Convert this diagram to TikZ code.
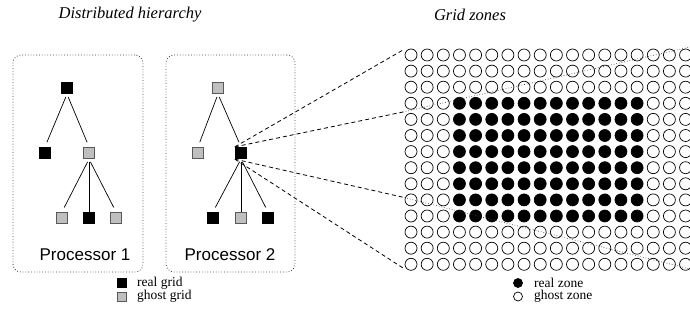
\documentclass[tikz,border=0pt]{standalone}
\usepackage{fontspec}
\setmainfont{Liberation Serif}
\newfontfamily\procfont{Liberation Sans}
\begin{document}
\begin{tikzpicture}[x=1pt,y=-1pt,
  realsq/.style={draw=black, fill=black, minimum size=11.5pt, inner sep=0pt, line width=0.8pt},
  ghostsq/.style={draw=black!65, fill=black!25, minimum size=11.5pt, inner sep=0pt, line width=0.8pt},
  pbox/.style={draw=black!75, dotted, rounded corners=8pt, line width=0.8pt, inner sep=0pt},
  tline/.style={line width=0.7pt, shorten <=3pt, shorten >=5pt},
  zreal/.style={circle, fill=black, draw=black, line width=0.7pt, minimum size=12pt, inner sep=0pt},
  zghost/.style={circle, draw=black, line width=0.7pt, minimum size=12pt, inner sep=0pt},
  dline/.style={dashed, dash pattern=on 4pt off 3pt, line width=0.8pt},
  pline/.style={dotted, line width=0.7pt, black!75},
  title/.style={font=\fontsize{16.5}{19}\selectfont\itshape},
  proc/.style={font=\procfont\fontsize{17}{20}\selectfont},
  leg/.style={font=\fontsize{13.5}{14}\selectfont, anchor=west, inner sep=0pt}
]
\useasboundingbox (0,0) rectangle (690,320);

% titles
\node[title] (t1) at (130,15) {Distributed hierarchy};
\node[title] (t2) at (470,15) {Grid zones};

% processor boxes
\node[pbox, minimum width=130pt, minimum height=217pt] (box1) at (78,163.5) {};
\node[pbox, minimum width=129pt, minimum height=217pt] (box2) at (230.5,163.5) {};
\node[proc] (p1) at (85,255) {Processor 1};
\node[proc] (p2) at (230,255) {Processor 2};

% tree 1
\node[realsq]  (a0) at (67,88) {};
\node[realsq]  (a1) at (45,153) {};
\node[ghostsq] (a2) at (89,153) {};
\node[ghostsq] (a3) at (62,218) {};
\node[realsq]  (a4) at (89,218) {};
\node[ghostsq] (a5) at (116,218) {};
\draw[tline] (a0.south) -- (a1.north);
\draw[tline] (a0.south) -- (a2.north);
\draw[tline] (a2.south) -- (a3.north);
\draw[tline, shorten >=0pt] (a2.south) -- (a4.north);
\draw[tline] (a2.south) -- (a5.north);

% tree 2
\node[ghostsq] (b0) at (218,88) {};
\node[ghostsq] (b1) at (198,153) {};
\node[realsq]  (b2) at (241,153) {};
\node[realsq]  (b3) at (213,218) {};
\node[ghostsq] (b4) at (241,218) {};
\node[realsq]  (b5) at (268,218) {};
\draw[tline] (b0.south) -- (b1.north);
\draw[tline] (b0.south) -- (b2.north);
\draw[tline] (b2.south) -- (b3.north);
\draw[tline, shorten >=0pt] (b2.south) -- (b4.north);
\draw[tline] (b2.south) -- (b5.north);

% grid of zones
\foreach \i in {1,...,14}{
  \foreach \j in {1,...,18}{
    \pgfmathsetmacro{\xx}{411+16.15*(\j-1)}
    \pgfmathsetmacro{\yy}{55+16.1*(\i-1)}
    \ifnum\i>3 \ifnum\i<12 \ifnum\j>3 \ifnum\j<16
      \node[zreal] (z-\i-\j) at (\xx,\yy) {};
    \else \node[zghost] (z-\i-\j) at (\xx,\yy) {};
    \fi \else \node[zghost] (z-\i-\j) at (\xx,\yy) {};
    \fi \else \node[zghost] (z-\i-\j) at (\xx,\yy) {};
    \fi \else \node[zghost] (z-\i-\j) at (\xx,\yy) {};
    \fi
  }
}

% zoom connectors
\coordinate (c1) at (403,50);
\coordinate (c2) at (403,112);
\coordinate (c3) at (402,197);
\coordinate (c4) at (403,268);
\coordinate (d1) at (690,47);
\coordinate (d2) at (690,269);
\draw[dline] (b2.north west) -- (c1);
\draw[dline] (b2.north west) -- (c2);
\draw[dline] (b2.south west) -- (c3);
\draw[dline] (b2.south west) -- (c4);
\draw[pline] (c2) -- (d1);
\draw[pline] (c3) -- (d2);

% legends
\node[realsq, minimum size=9pt] (lg1) at (121.5,283) {};
\node[ghostsq, minimum size=9pt] (lg2) at (121.5,296.5) {};
\node[leg] (lt1) at (137,283) {real grid};
\node[leg] (lt2) at (137,296.5) {ghost grid};
\node[zreal, minimum size=9pt] (lz1) at (518,283) {};
\node[zghost, minimum size=9pt] (lz2) at (518,296.5) {};
\node[leg] (lz1t) at (534,283) {real zone};
\node[leg] (lz2t) at (534,296.5) {ghost zone};
\end{tikzpicture}
\end{document}
